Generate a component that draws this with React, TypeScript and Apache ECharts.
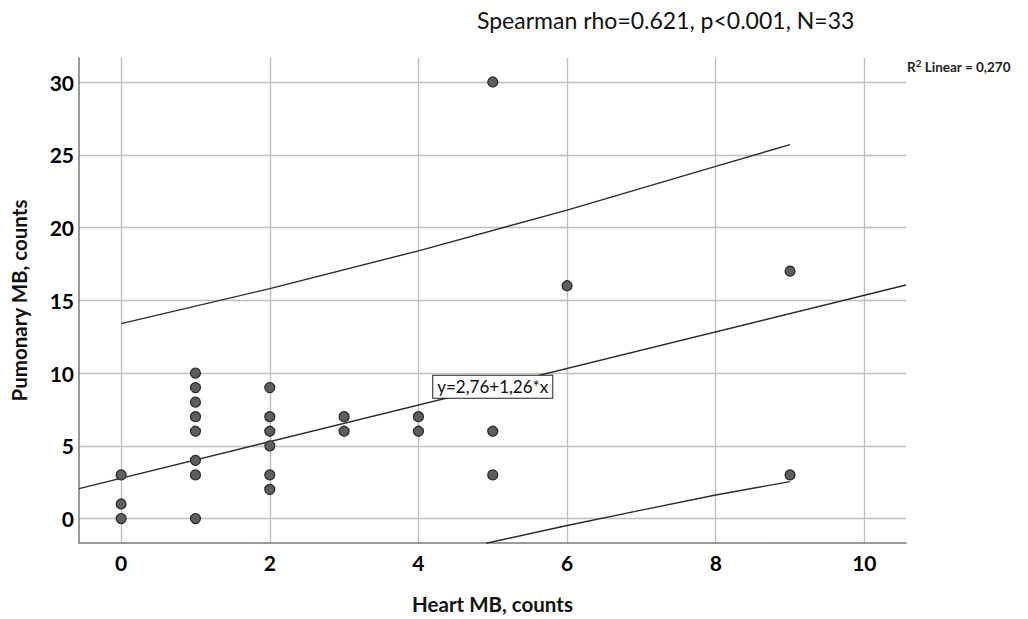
import React, { useEffect, useRef } from "react";
import * as echarts from "echarts";

// Observed points (Heart MB, Pulmonary MB)
const heartMB: number[] = [0, 0, 0, 1, 1, 1, 1, 1, 1, 1, 1, 2, 2, 2, 2, 2, 2, 3, 3, 4, 4, 5, 5, 5, 6, 9, 9];
const pulmMB: number[] = [3, 1, 0, 10, 9, 8, 7, 6, 4, 3, 0, 9, 7, 6, 5, 3, 2, 7, 6, 7, 6, 30, 6, 3, 16, 17, 3];

// Fit line (read at plot edges) and prediction-interval curves
const fitX: number[] = [-0.567, 10.56];
const fitY: number[] = [2.06, 16.05];
const upperX: number[] = [0, 2, 4, 6, 8, 9];
const upperY: number[] = [13.4, 15.8, 18.4, 21.2, 24.2, 25.7];
const lowerX: number[] = [4.91, 6, 7, 8, 9];
const lowerY: number[] = [-1.7, -0.48, 0.58, 1.62, 2.54];

const xTicks: number[] = [0, 2, 4, 6, 8, 10];
const yTicks: number[] = [0, 5, 10, 15, 20, 25, 30];

const eqLabelX = 5;
const eqLabelY = 9.06;

const FONT = "Lato, 'Open Sans', sans-serif";

export default function App() {
  const ref = useRef<HTMLDivElement>(null);
  useEffect(() => {
    if (!ref.current) return;
    const chart = echarts.init(ref.current, null, { renderer: "svg" });
    const zip = (a: number[], b: number[]) => a.map((v, i) => [v, b[i]]);
    chart.setOption({
      animation: false,
      backgroundColor: "#ffffff",
      textStyle: { fontFamily: FONT },
      grid: { left: 76, right: 122, top: 58, bottom: 72, containLabel: false },
      xAxis: {
        type: "value",
        min: -0.567,
        max: 10.56,
        name: "Heart MB, counts",
        nameLocation: "middle",
        nameGap: 50,
        nameTextStyle: { fontFamily: FONT, fontSize: 20.5, fontWeight: "bold", color: "#111" },
        axisLine: { show: true, onZero: false, lineStyle: { color: "#7a7a7a", width: 1.5 } },
        axisTick: { show: false, customValues: xTicks },
        axisLabel: {
          customValues: xTicks,
          fontFamily: FONT,
          fontSize: 21,
          fontWeight: "bold",
          color: "#000",
          margin: 9,
        },
        splitLine: { show: true, lineStyle: { color: "#c0c0c0", width: 1.4 } },
      },
      yAxis: {
        type: "value",
        min: -1.68,
        max: 31.65,
        name: "Pumonary MB, counts",
        nameLocation: "middle",
        nameGap: 50,
        nameRotate: 90,
        nameTextStyle: { fontFamily: FONT, fontSize: 20.5, fontWeight: "bold", color: "#111" },
        axisLine: { show: true, onZero: false, lineStyle: { color: "#7a7a7a", width: 1.5 } },
        axisTick: { show: false, customValues: yTicks },
        axisLabel: {
          customValues: yTicks,
          fontFamily: FONT,
          fontSize: 21,
          fontWeight: "bold",
          color: "#000",
          margin: 5,
        },
        splitLine: { show: true, lineStyle: { color: "#c0c0c0", width: 1.4 } },
      },
      series: [
        {
          type: "line",
          data: zip(fitX, fitY),
          showSymbol: false,
          lineStyle: { color: "#2b2b2b", width: 1.4 },
          silent: true,
          z: 3,
          markPoint: {
            symbol: "rect",
            symbolSize: 0,
            data: [{ coord: [eqLabelX, eqLabelY] }],
            label: {
              show: true,
              position: "inside",
              formatter: "y=2,76+1,26*x",
              fontFamily: FONT,
              fontSize: 17,
              color: "#111",
              backgroundColor: "#ffffff",
              borderColor: "#222",
              borderWidth: 1,
              padding: [3, 4, 2, 4],
            },
          },
        },
        {
          type: "line",
          data: zip(upperX, upperY),
          showSymbol: false,
          smooth: false,
          lineStyle: { color: "#2b2b2b", width: 1.4 },
          silent: true,
          z: 3,
        },
        {
          type: "line",
          data: zip(lowerX, lowerY),
          showSymbol: false,
          smooth: false,
          lineStyle: { color: "#2b2b2b", width: 1.4 },
          silent: true,
          z: 3,
        },
        {
          type: "scatter",
          data: zip(heartMB, pulmMB),
          symbolSize: 10,
          itemStyle: { color: "#5e5e5e", borderColor: "#2a2a2a", borderWidth: 1.2, opacity: 1 },
          z: 4,
        },
      ],
      graphic: [
        {
          type: "text",
          left: 477,
          top: 8,
          style: {
            text: "Spearman rho=0.621, p<0.001, N=33",
            fontFamily: FONT,
            fontSize: 23,
            fill: "#111",
          },
        },
        {
          type: "text",
          left: 907,
          top: 58,
          style: {
            text: "{b|R}{s|2}{b| Linear = 0,270}",
            rich: {
              b: { fontFamily: FONT, fontSize: 13.5, fontWeight: "bold", fill: "#222", verticalAlign: "bottom" },
              s: { fontFamily: FONT, fontSize: 10, fontWeight: "bold", fill: "#222", verticalAlign: "top", padding: [0, 0, 6, 0] },
            },
          },
        },
      ],
    });
    return () => chart.dispose();
  }, []);
  return (
    <div
      ref={ref}
      style={{ position: "fixed", left: 0, top: 0, width: 1028, height: 619 }}
    />
  );
}
